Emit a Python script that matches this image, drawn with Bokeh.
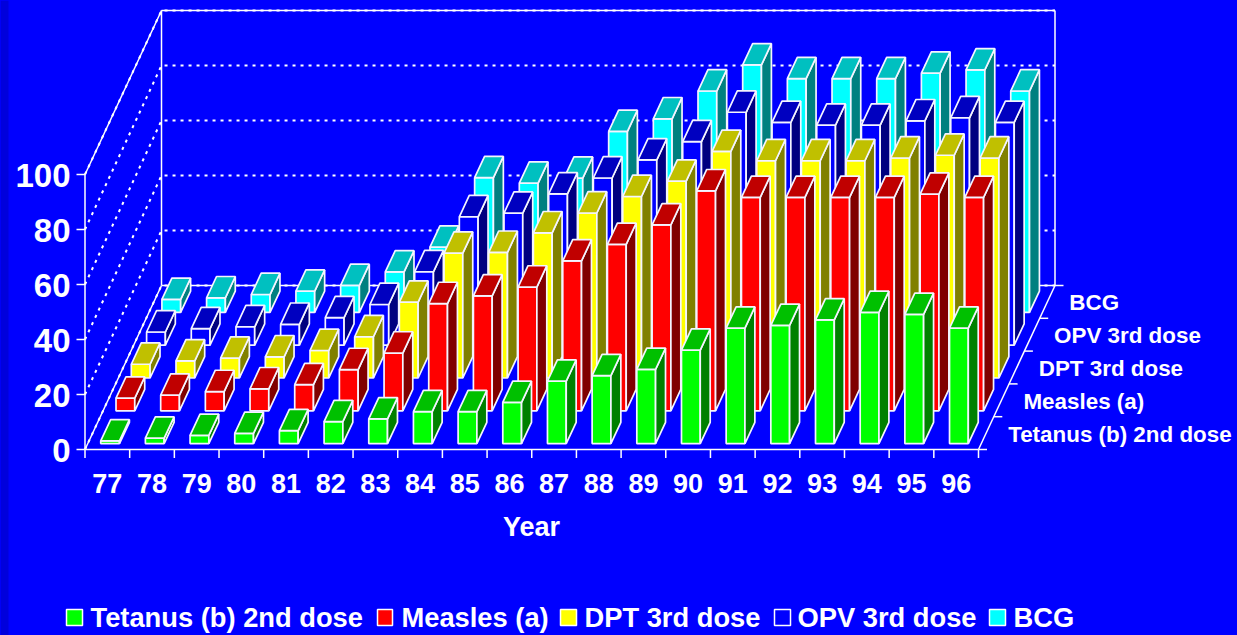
from bokeh.plotting import figure
from bokeh.models import Range1d, ColumnDataSource
from bokeh.core.properties import value
from bokeh.embed import file_html
from bokeh.resources import INLINE

years = ["77","78","79","80","81","82","83","84","85","86","87","88","89","90","91","92","93","94","95","96"]
series_names = ["Tetanus (b) 2nd dose", "Measles (a)", "DPT 3rd dose", "OPV 3rd dose", "BCG"]
y_ticks = [0, 20, 40, 60, 80, 100]

tetanus = [1, 2, 3, 3.7, 4.7, 8, 9, 11.6, 11.6, 15, 22.7, 24.7, 27, 34, 42, 43, 45, 47.7, 47, 42]
measles = [4.6, 5.7, 7, 8, 9.5, 15, 21, 39, 41.8, 45, 54.5, 60.5, 67.6, 80, 77.6, 77.6, 77.6, 77.6, 78.8, 77.6]
dpt = [5, 6.2, 7.2, 7.7, 10, 15, 27.6, 45.4, 45.7, 52.8, 60, 66, 71.6, 82.4, 79, 79, 79, 80, 81, 80]
opv = [4.8, 6, 6.7, 7.6, 10, 14.8, 26.7, 46.7, 48, 55, 60.8, 67.4, 74, 84.7, 81, 80, 80, 81.6, 82.7, 81]
bcg = [4.7, 5.3, 6.5, 7.7, 9.8, 14.7, 23.7, 49, 47, 48.8, 65.8, 70.4, 80.5, 90, 85, 85, 85, 87, 88.2, 80.5]
all_series = [tetanus, measles, dpt, opv, bcg]

front = ["#00ff00", "#ff0000", "#ffff00", "#0000ff", "#00ffff"]
top = ["#00c000", "#c00000", "#c0c000", "#0000c0", "#00c0c0"]
side = ["#008000", "#800000", "#808000", "#000080", "#008080"]

BG = "#0000ff"
OX, OY = 84.5, 449.0
CW = 44.675
DX, DY = 15.3, -32.8
VS = 2.75


def proj(c, d, v):
    """category position, depth position, value -> picture position"""
    return OX + c * CW + d * DX, OY + d * DY - v * VS


p = figure(width=1237, height=635, x_range=Range1d(0, 1237), y_range=Range1d(635, 0),
           output_backend="svg", toolbar_location=None, min_border=0,
           background_fill_color=BG, border_fill_color=BG, outline_line_color=None)
p.axis.visible = False
p.grid.visible = False

p.quad(left=[0], right=[8], top=[0], bottom=[635], fill_color="#0000dc", line_color=None)

NC, ND = len(years), len(series_names)
WHITE = "#ffffff"

# dotted grid on the walls
for v in y_ticks:
    a, b, c = proj(0, 0, v), proj(0, ND, v), proj(NC, ND, v)
    p.line([a[0], b[0], c[0]], [a[1], b[1], c[1]], line_color=WHITE, line_width=2, line_dash="3 5")

# solid wall and floor frame
for c0, d0, v0, c1, d1, v1 in [
    (0, 0, 0, 0, 0, 100), (0, ND, 0, 0, ND, 100), (NC, ND, 0, NC, ND, 100),
    (0, 0, 100, 0, ND, 100), (0, ND, 100, NC, ND, 100),
    (0, 0, 0, 0, ND, 0), (0, ND, 0, NC, ND, 0), (NC, 0, 0, NC, ND, 0), (0, 0, 0, NC, 0, 0),
]:
    a, b = proj(c0, d0, v0), proj(c1, d1, v1)
    p.line([a[0], b[0]], [a[1], b[1]], line_color=WHITE, line_width=1.5)

# ticks
for v in y_ticks:
    a = proj(0, 0, v)
    p.line([a[0] - 8.5, a[0]], [a[1], a[1]], line_color=WHITE, line_width=1.5)
for i in range(NC + 1):
    a = proj(i, 0, 0)
    p.line([a[0], a[0]], [a[1], a[1] + 8.5], line_color=WHITE, line_width=1.5)
for s in range(ND + 1):
    a = proj(NC, s, 0)
    p.line([a[0], a[0] + 8.5], [a[1], a[1]], line_color=WHITE, line_width=1.5)

# bars, back row first
xs, ys, fills = [], [], []
X0, X1, D0, D1 = 0.29, 0.71, 0.18, 0.83
for s in reversed(range(ND)):
    for i, v in enumerate(all_series[s]):
        faces = [
            ([(i + X0, s + D0, 0), (i + X1, s + D0, 0), (i + X1, s + D0, v), (i + X0, s + D0, v)], front[s]),
            ([(i + X1, s + D0, 0), (i + X1, s + D1, 0), (i + X1, s + D1, v), (i + X1, s + D0, v)], side[s]),
            ([(i + X0, s + D0, v), (i + X1, s + D0, v), (i + X1, s + D1, v), (i + X0, s + D1, v)], top[s]),
        ]
        for pts, col in faces:
            q = [proj(*t) for t in pts]
            xs.append([a for a, _ in q])
            ys.append([b for _, b in q])
            fills.append(col)
p.patches(xs="xs", ys="ys", fill_color="fills", line_color="#f4f4ff", line_width=1.7,
          source=ColumnDataSource(dict(xs=xs, ys=ys, fills=fills)))

FONT = value("Liberation Sans")


def label(x, y, t, size, align="left"):
    p.text([x], [y], text=[t], text_font=FONT, text_font_style="bold", text_color=WHITE,
           text_font_size=f"{size}px", text_align=align, text_baseline="middle")


for v in y_ticks:
    a = proj(0, 0, v)
    label(70, a[1] + 1, str(v), 33, "right")
for i, y in enumerate(years):
    a = proj(i + 0.5, 0, 0)
    label(a[0], 483, y, 27, "center")
label(531, 526, "Year", 27, "center")
for s, name in enumerate(series_names):
    a = proj(NC, s + 0.5, 0)
    label(a[0] + 22, a[1] + 1, name, 22.4)

# legend
leg_x = [(66, 82, 90), (377, 392, 401), (560, 576, 584), (774, 790, 797), (989, 1005, 1013)]
for (l, r, t), col, name in zip(leg_x, front, series_names):
    p.quad(left=[l], right=[r], top=[609], bottom=[625], fill_color=col, line_color=WHITE, line_width=1.5)
    label(t, 617, name, 27.3)

html = file_html(p, INLINE)
html = html.replace("<head>", "<head><style>html,body{margin:0;padding:0;background:#0000ff;overflow:hidden}</style>", 1)
open("out.html", "w").write(html)
